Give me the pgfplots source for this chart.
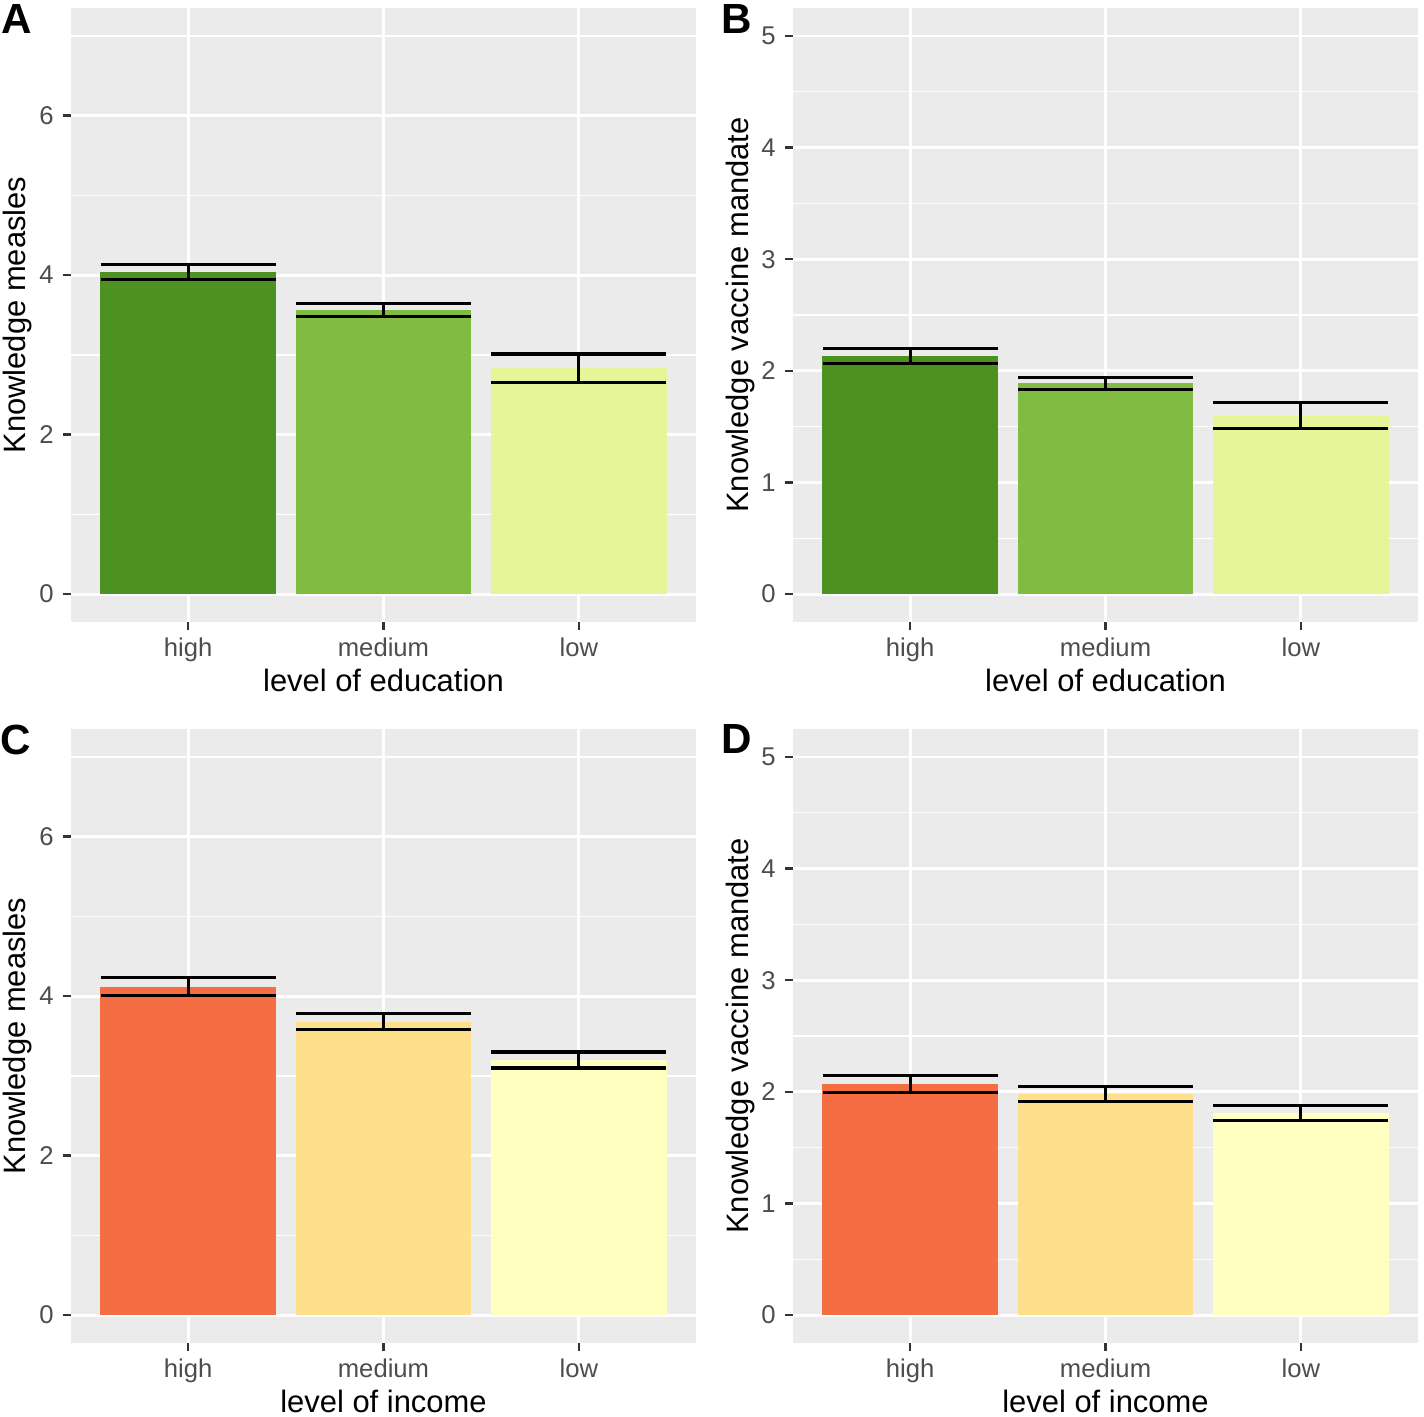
\documentclass[border=0pt]{standalone}
\usepackage{fontspec}
\setmainfont{Liberation Sans}
\usepackage{pgfplots}
\pgfplotsset{compat=1.18}

\definecolor{ggbg}{HTML}{EBEBEB}
\definecolor{ggtick}{HTML}{333333}
\definecolor{ggtext}{HTML}{4D4D4D}
\definecolor{gA}{HTML}{4D9221}
\definecolor{gB}{HTML}{7FBC41}
\definecolor{gC}{HTML}{E6F598}
\definecolor{rA}{HTML}{F46D43}
\definecolor{rB}{HTML}{FEE08B}
\definecolor{rC}{HTML}{FFFFBF}

\pgfplotsset{
 gg/.style={
  scale only axis, width=6.25cm, height=6.14cm,
  xmin=0.4, xmax=3.6, xtick={1,2,3}, xticklabels={high,medium,low},
  axis background/.style={fill=ggbg},
  axis line style={draw=none},
  xmajorgrids, ymajorgrids, yminorgrids,
  major grid style={white, line width=0.028cm},
  minor grid style={white, line width=0.014cm},
  tick align=outside, xtick pos=left, ytick pos=left,
  major tick length=0.08cm, minor tick length=0cm,
  tick style={ggtick, line width=0.025cm},
  tick label style={font=\fontsize{7.3}{8}\selectfont, text=ggtext},
  xticklabel style={yshift=0.05cm},
  yticklabel style={xshift=0.03cm},
  /pgf/number format/assume math mode=true,
  every axis y label/.style={at={(axis description cs:0,0.5)}, xshift=-0.53cm, rotate=90, anchor=center, font=\fontsize{8.8}{10}\selectfont, text=black},
  every axis x label/.style={at={(axis description cs:0.5,0)}, yshift=-0.585cm, anchor=center, font=\fontsize{8.8}{10}\selectfont, text=black},
  ybar, bar width=0.9, bar shift=0pt,
 },
 ggmeas/.style={ymin=-0.35, ymax=7.35, ytick={0,2,4,6}, minor ytick={1,3,5,7}, ylabel={Knowledge measles}},
 ggvacc/.style={ymin=-0.25, ymax=5.25, ytick={0,1,2,3,4,5}, minor ytick={0.5,1.5,2.5,3.5,4.5}, ylabel={Knowledge vaccine mandate}},
 bb/.style={draw=none, fill=#1,
   error bars/.cd, y dir=both, y explicit, error mark=|,
   error bar style={draw=black, line width=0.032cm},
   error mark options={draw=black, mark size=0.875cm, line width=0.032cm}},
}

\begin{document}
\begin{tikzpicture}
\useasboundingbox (0,0) rectangle (14.24cm,-14.16cm);

% A
\begin{axis}[gg, ggmeas, xlabel={level of education}, at={(0.71cm,-6.22cm)}, anchor=south west]
\addplot[bb=gA] coordinates {(1,4.04) +- (0,0.095)};
\addplot[bb=gB] coordinates {(2,3.56) +- (0,0.08)};
\addplot[bb=gC] coordinates {(3,2.83) +- (0,0.18)};
\end{axis}

% B
\begin{axis}[gg, ggvacc, xlabel={level of education}, at={(7.93cm,-6.22cm)}, anchor=south west]
\addplot[bb=gA] coordinates {(1,2.13) +- (0,0.067)};
\addplot[bb=gB] coordinates {(2,1.89) +- (0,0.054)};
\addplot[bb=gC] coordinates {(3,1.60) +- (0,0.12)};
\end{axis}

% C
\begin{axis}[gg, ggmeas, xlabel={level of income}, at={(0.71cm,-13.43cm)}, anchor=south west]
\addplot[bb=rA] coordinates {(1,4.12) +- (0,0.113)};
\addplot[bb=rB] coordinates {(2,3.68) +- (0,0.10)};
\addplot[bb=rC] coordinates {(3,3.20) +- (0,0.10)};
\end{axis}

% D
\begin{axis}[gg, ggvacc, xlabel={level of income}, at={(7.93cm,-13.43cm)}, anchor=south west]
\addplot[bb=rA] coordinates {(1,2.07) +- (0,0.076)};
\addplot[bb=rB] coordinates {(2,1.98) +- (0,0.069)};
\addplot[bb=rC] coordinates {(3,1.81) +- (0,0.07)};
\end{axis}

\node[font=\fontsize{12}{14}\selectfont\bfseries, anchor=base west, inner sep=0] at (0.01cm,-0.33cm) {A};
\node[font=\fontsize{12}{14}\selectfont\bfseries, anchor=base west, inner sep=0] at (7.21cm,-0.33cm) {B};
\node[font=\fontsize{12}{14}\selectfont\bfseries, anchor=base west, inner sep=0] at (0.0cm,-7.545cm) {C};
\node[font=\fontsize{12}{14}\selectfont\bfseries, anchor=base west, inner sep=0] at (7.21cm,-7.535cm) {D};
\end{tikzpicture}
\end{document}
